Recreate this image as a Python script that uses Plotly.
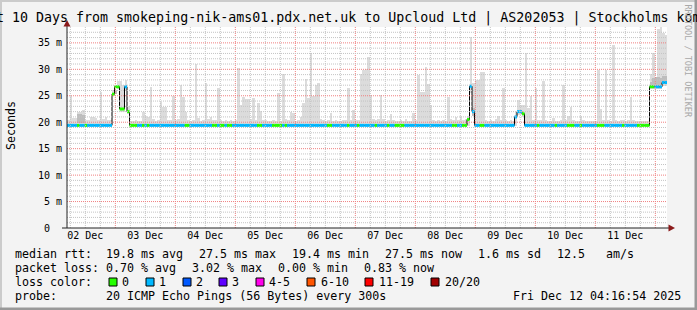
import pandas as pd
import plotly.graph_objects as go

MONO = "DejaVu Sans Mono"
START = pd.Timestamp("2025-12-02 04:40:00")
END = START + pd.Timedelta(days=10)

# ---- hourly data (240 buckets, 10 days) ----
smoke_top = [
    20.4, 25.0, 20.8, 20.8, 22.0, 22.0, 22.3, 20.5, 20.4, 21.0, 21.0, 20.8,
    20.5, 25.8, 20.6, 21.0, 20.4, 20.4, 26.1, 26.1, 27.8, 27.8, 27.0, 27.9,
    23.0, 20.3, 20.3, 20.4, 20.3, 20.3, 22.0, 21.2, 21.0, 26.7, 20.7, 20.3,
    20.4, 23.8, 22.9, 22.8, 20.4, 20.5, 25.0, 20.4, 20.6, 27.0, 24.8, 21.9,
    20.4, 20.3, 20.5, 31.0, 20.8, 20.3, 20.4, 27.5, 20.6, 21.0, 20.4, 20.5,
    26.5, 20.4, 20.3, 20.5, 20.3, 20.4, 20.3, 20.5, 30.2, 23.3, 24.7, 24.3,
    24.3, 20.6, 24.5, 20.5, 23.7, 22.1, 20.5, 20.5, 20.3, 20.3, 20.4, 20.3,
    25.6, 20.3, 29.1, 20.6, 20.4, 22.0, 21.7, 20.3, 20.4, 21.0, 23.6, 28.1,
    24.5, 33.0, 25.0, 27.0, 27.4, 20.7, 20.4, 20.3, 20.4, 21.8, 20.3, 20.4,
    20.3, 20.3, 20.5, 20.4, 26.4, 20.5, 22.3, 20.4, 20.5, 29.2, 29.9, 30.0,
    32.4, 25.1, 20.6, 20.4, 20.6, 25.1, 20.7, 20.3, 20.4, 21.6, 20.4, 20.3,
    20.3, 20.4, 20.3, 20.6, 20.3, 20.3, 21.8, 20.4, 28.9, 25.8, 25.8, 30.5,
    27.3, 23.3, 20.5, 20.3, 20.4, 20.3, 20.4, 20.3, 24.7, 20.6, 20.4, 21.0,
    20.4, 21.1, 20.5, 20.6, 21.2, 36.2, 27.5, 28.0, 28.0, 29.5, 29.5, 20.5,
    20.3, 20.4, 20.3, 20.7, 21.2, 20.4, 26.4, 20.5, 20.3, 20.4, 20.3, 21.9,
    24.2, 23.3, 23.3, 33.0, 22.6, 25.0, 20.5, 26.4, 20.4, 20.5, 27.8, 20.4,
    20.3, 20.3, 20.8, 20.3, 20.3, 20.4, 27.0, 20.4, 21.2, 22.9, 20.4, 20.3,
    20.3, 21.2, 20.4, 20.3, 20.3, 20.3, 20.3, 20.3, 29.9, 22.5, 20.4, 29.9,
    20.4, 20.3, 34.6, 20.4, 20.3, 20.4, 20.5, 20.3, 20.4, 24.8, 20.4, 20.3,
    20.3, 20.3, 20.3, 20.3, 20.3, 29.2, 33.0, 28.0, 37.7, 38.0, 36.8, 36.5,
]

smoke_bottom = [
    19.2, 19.2, 19.2, 19.2, 19.2, 19.2, 19.2, 19.2, 19.2, 19.2, 19.2, 19.2,
    19.2, 19.2, 19.2, 19.2, 19.2, 19.2, 25.0, 25.3, 26.2, 22.0, 22.0, 26.0,
    21.6, 19.2, 19.2, 19.2, 19.2, 19.2, 19.2, 19.2, 19.2, 19.2, 19.2, 19.2,
    19.2, 19.2, 19.2, 19.2, 19.2, 19.2, 19.2, 19.2, 19.2, 19.2, 19.2, 19.2,
    19.2, 19.2, 19.2, 19.2, 19.2, 19.2, 19.2, 19.2, 19.2, 19.2, 19.2, 19.2,
    19.2, 19.2, 19.2, 19.2, 19.2, 19.2, 19.2, 19.2, 19.2, 19.2, 19.2, 19.2,
    19.2, 19.2, 19.2, 19.2, 19.2, 19.2, 19.2, 19.2, 19.2, 19.2, 19.2, 19.2,
    19.2, 19.2, 19.2, 19.2, 19.2, 19.2, 19.2, 19.2, 19.2, 19.2, 19.2, 19.2,
    19.2, 19.2, 19.2, 19.2, 19.2, 19.2, 19.2, 19.2, 19.2, 19.2, 19.2, 19.2,
    19.2, 19.2, 19.2, 19.2, 19.2, 19.2, 19.2, 19.2, 19.2, 19.2, 19.2, 19.2,
    19.2, 19.2, 19.2, 19.2, 19.2, 19.2, 19.2, 19.2, 19.2, 19.2, 19.2, 19.2,
    19.2, 19.2, 19.2, 19.2, 19.2, 19.2, 19.2, 19.2, 19.2, 19.2, 19.2, 19.2,
    19.2, 19.2, 19.2, 19.2, 19.2, 19.2, 19.2, 19.2, 19.2, 19.2, 19.2, 19.2,
    19.2, 19.2, 19.2, 19.2, 19.2, 25.5, 21.5, 19.2, 19.2, 19.2, 19.2, 19.2,
    19.2, 19.2, 19.2, 19.2, 19.2, 19.2, 19.2, 19.2, 19.2, 19.2, 19.2, 19.2,
    21.4, 21.4, 21.0, 19.2, 19.2, 19.2, 19.2, 19.2, 19.2, 19.2, 19.2, 19.2,
    19.2, 19.2, 19.2, 19.2, 19.2, 19.2, 19.2, 19.2, 19.2, 19.2, 19.2, 19.2,
    19.2, 19.2, 19.2, 19.2, 19.2, 19.2, 19.2, 19.2, 19.2, 19.2, 19.2, 19.2,
    19.2, 19.2, 19.2, 19.2, 19.2, 19.2, 19.2, 19.2, 19.2, 19.2, 19.2, 19.2,
    19.2, 19.2, 19.2, 19.2, 19.2, 26.3, 26.3, 26.3, 26.3, 26.3, 26.9, 26.9,
]

median_rtt = [
    19.4, 19.4, 19.4, 19.4, 19.4, 19.4, 19.4, 19.4, 19.4, 19.4, 19.4, 19.4,
    19.4, 19.4, 19.4, 19.4, 19.4, 19.4, 25.3, 26.7, 26.7, 22.5, 22.5, 26.7,
    22.0, 19.4, 19.4, 19.4, 19.4, 19.4, 19.4, 19.4, 19.4, 19.4, 19.4, 19.4,
    19.4, 19.4, 19.4, 19.4, 19.4, 19.4, 19.4, 19.4, 19.4, 19.4, 19.4, 19.4,
    19.4, 19.4, 19.4, 19.4, 19.4, 19.4, 19.4, 19.4, 19.4, 19.4, 19.4, 19.4,
    19.4, 19.4, 19.4, 19.4, 19.4, 19.4, 19.4, 19.4, 19.4, 19.4, 19.4, 19.4,
    19.4, 19.4, 19.4, 19.4, 19.4, 19.4, 19.4, 19.4, 19.4, 19.4, 19.4, 19.4,
    19.4, 19.4, 19.4, 19.4, 19.4, 19.4, 19.4, 19.4, 19.4, 19.4, 19.4, 19.4,
    19.4, 19.4, 19.4, 19.4, 19.4, 19.4, 19.4, 19.4, 19.4, 19.4, 19.4, 19.4,
    19.4, 19.4, 19.4, 19.4, 19.4, 19.4, 19.4, 19.4, 19.4, 19.4, 19.4, 19.4,
    19.4, 19.4, 19.4, 19.4, 19.4, 19.4, 19.4, 19.4, 19.4, 19.4, 19.4, 19.4,
    19.4, 19.4, 19.4, 19.4, 19.4, 19.4, 19.4, 19.4, 19.4, 19.4, 19.4, 19.4,
    19.4, 19.4, 19.4, 19.4, 19.4, 19.4, 19.4, 19.4, 19.4, 19.4, 19.4, 19.4,
    19.4, 19.4, 19.4, 19.4, 20.5, 26.8, 22.0, 19.4, 19.4, 19.4, 19.4, 19.4,
    19.4, 19.4, 19.4, 19.4, 19.4, 19.4, 19.4, 19.4, 19.4, 19.4, 19.4, 21.0,
    22.0, 22.0, 21.6, 19.4, 19.4, 19.4, 19.4, 19.4, 19.4, 19.4, 19.4, 19.4,
    19.4, 19.4, 19.4, 19.4, 19.4, 19.4, 19.4, 19.4, 19.4, 19.4, 19.4, 19.4,
    19.4, 19.4, 19.4, 19.4, 19.4, 19.4, 19.4, 19.4, 19.4, 19.4, 19.4, 19.4,
    19.4, 19.4, 19.4, 19.4, 19.4, 19.4, 19.4, 19.4, 19.4, 19.4, 19.4, 19.4,
    19.4, 19.4, 19.4, 19.4, 19.4, 26.7, 26.7, 26.7, 26.7, 26.7, 27.5, 27.5,
]

loss_count = [
    1, 1, 1, 1, 0, 1, 1, 0, 1, 1, 1, 1,
    1, 1, 1, 1, 1, 1, 0, 0, 0, 0, 0, 1,
    0, 0, 0, 0, 1, 1, 0, 1, 0, 1, 1, 1,
    1, 1, 1, 1, 1, 1, 1, 1, 1, 1, 1, 0,
    0, 1, 1, 1, 1, 1, 1, 1, 1, 1, 0, 0,
    1, 0, 0, 1, 0, 0, 1, 1, 1, 1, 1, 1,
    1, 1, 1, 1, 0, 0, 1, 1, 1, 1, 0, 0,
    0, 0, 1, 0, 1, 1, 1, 1, 1, 1, 1, 1,
    1, 1, 1, 1, 1, 1, 1, 1, 0, 0, 1, 1,
    1, 1, 1, 1, 0, 1, 1, 1, 0, 1, 1, 1,
    1, 1, 1, 0, 1, 1, 1, 1, 0, 1, 1, 0,
    0, 0, 0, 1, 1, 1, 1, 1, 1, 1, 1, 1,
    1, 1, 1, 1, 1, 1, 1, 1, 1, 1, 0, 0,
    1, 1, 0, 0, 0, 1, 1, 1, 1, 0, 0, 1,
    1, 1, 1, 1, 1, 1, 1, 1, 1, 1, 1, 1,
    1, 1, 0, 1, 1, 1, 1, 1, 0, 1, 1, 1,
    1, 1, 1, 0, 1, 1, 1, 1, 0, 0, 0, 1,
    1, 0, 1, 1, 1, 1, 1, 1, 0, 0, 0, 1,
    1, 1, 1, 1, 1, 1, 0, 1, 1, 1, 1, 1,
    0, 0, 0, 0, 0, 0, 0, 1, 1, 1, 1, 1,
]

# darker inner smoke (few buckets)
inner_hours = [4, 5, 6, 19, 162, 233, 234, 235, 236, 237, 238, 239]
inner_lo = [19.8, 19.8, 19.8, 25.3, 21.2, 26.5, 26.5, 26.5, 26.5, 26.5, 27.3, 27.3]
inner_hi = [21.5, 21.6, 21.3, 26.1, 22.6, 27.6, 28.3, 28.6, 28.6, 28.3, 28.8, 28.8]

day_labels = ["02 Dec", "03 Dec", "04 Dec", "05 Dec", "06 Dec",
              "07 Dec", "08 Dec", "09 Dec", "10 Dec", "11 Dec"]
ytick_vals = [0, 5, 10, 15, 20, 25, 30, 35]
ytick_text = ["0\u00a0\u00a0", "5 m", "10 m", "15 m", "20 m", "25 m", "30 m", "35 m"]

loss_labels = ["0", "1", "2", "3", "4-5", "6-10", "11-19", "20/20"]
loss_colors = ["#26ff00", "#00b8ff", "#0059ff", "#5e00ff",
               "#ff00ea", "#ff5500", "#ff0000", "#a00000"]

title_text = ("Last 10 Days from smokeping-nik-ams01.pdx.net.uk to Upcloud Ltd"
              " | AS202053 | Stockholms kommun")
rtt_items = ["19.8 ms avg", "27.5 ms max", "19.4 ms min", "27.5 ms now",
             "1.6 ms sd", "12.5", "am/s"]
loss_items = ["0.70 % avg", "3.02 % max", "0.00 % min", "0.83 % now"]
probe_text = "20 ICMP Echo Pings (56 Bytes) every 300s"
date_text = "Fri Dec 12 04:16:54 2025"

# ---- layout geometry (pixels) ----
W, H = 697, 310
PL, PR, PT, PB = 67, 667, 27, 228
YMAX = 38


def fx(x):
    return (x - PL) / (PR - PL)


def fy(y):
    return (PB - y) / (PB - PT)


def loss_class(n):
    if n <= 3:
        return n
    if n <= 5:
        return 4
    if n <= 10:
        return 5
    if n <= 19:
        return 6
    return 7


hours = list(range(len(smoke_top)))
t_edge = [START + pd.Timedelta(hours=h) for h in range(len(hours) + 1)]
t_mid = [START + pd.Timedelta(minutes=60 * h + 30) for h in hours]

fig = go.Figure()

fig.add_trace(go.Bar(
    x=t_mid, y=[t - b for t, b in zip(smoke_top, smoke_bottom)], base=smoke_bottom,
    width=3600 * 1000, marker=dict(color="#dcdcdc", line=dict(width=0)),
    hoverinfo="skip"))
fig.add_trace(go.Bar(
    x=[t_mid[h] for h in inner_hours], y=[hi - lo for hi, lo in zip(inner_hi, inner_lo)],
    base=inner_lo, width=3600 * 1000,
    marker=dict(color="#bdbdbd", line=dict(width=0)), hoverinfo="skip"))

# black step line (vertical transitions)
fig.add_trace(go.Scatter(
    x=t_edge, y=median_rtt + [median_rtt[-1]], mode="lines",
    line=dict(color="#000000", width=1, shape="hv"), hoverinfo="skip"))

# coloured median segments by loss
for ci, col in enumerate(loss_colors):
    xs, ys = [], []
    for h in hours:
        if loss_class(loss_count[h]) == ci:
            xs += [t_edge[h], t_edge[h + 1], None]
            ys += [median_rtt[h], median_rtt[h], None]
    if xs:
        fig.add_trace(go.Scatter(x=xs, y=ys, mode="lines",
                                 line=dict(color=col, width=3), hoverinfo="skip"))

shapes = []
# grid lines
t = START.ceil("6h")
while t < END:
    major = (t.hour == 0)
    shapes.append(dict(type="line", xref="x", yref="paper", x0=t, x1=t, y0=0, y1=1,
                       line=dict(color="#f08080" if major else "#c4c4c4", width=1,
                                 dash="1px,1px"), layer="above"))
    t += pd.Timedelta(hours=6)
for v in range(1, YMAX):
    major = (v % 5 == 0)
    shapes.append(dict(type="line", xref="paper", yref="y", x0=0, x1=1, y0=v, y1=v,
                       line=dict(color="#f08080" if major else "#c4c4c4", width=1,
                                 dash="1px,1px"), layer="above"))

AX = "#222222"
ARROW = "#8b1a1a"
# axes
shapes.append(dict(type="line", xref="paper", yref="paper", x0=fx(67), x1=fx(67),
                   y0=fy(228), y1=fy(24), line=dict(color=AX, width=1), layer="above"))
shapes.append(dict(type="line", xref="paper", yref="paper", x0=fx(62), x1=fx(671),
                   y0=fy(228), y1=fy(228), line=dict(color=AX, width=1), layer="above"))
shapes.append(dict(type="path", xref="paper", yref="paper",
                   path=f"M {fx(63.5)} {fy(26.5)} L {fx(70.5)} {fy(26.5)} L {fx(67)} {fy(20)} Z",
                   fillcolor=ARROW, line=dict(width=0), layer="above"))
shapes.append(dict(type="path", xref="paper", yref="paper",
                   path=f"M {fx(668.5)} {fy(224.5)} L {fx(668.5)} {fy(231.5)} L {fx(675)} {fy(228)} Z",
                   fillcolor=ARROW, line=dict(width=0), layer="above"))


# frame (3d border)
def rect(x0, y0, x1, y1, color, line=None):
    return dict(type="rect", xref="paper", yref="paper", x0=fx(x0), x1=fx(x1),
                y0=fy(y0), y1=fy(y1), fillcolor=color,
                line=dict(width=0) if line is None else line, layer="above")


shapes.append(rect(0, 0, W, 2, "#cbcbcb"))
shapes.append(rect(0, 0, 2, H, "#cbcbcb"))
shapes.append(rect(0, H - 2.5, W, H, "#999999"))
shapes.append(rect(W - 2.5, 0, W, H, "#999999"))

# loss colour legend boxes
box_x = [109, 146, 183, 219, 256, 307, 365, 431]
lab_x = [123, 160, 197, 233, 270, 322, 380, 446]
for bx, col in zip(box_x, loss_colors):
    shapes.append(rect(bx, 278, bx + 8, 286, col, line=dict(color="#000000", width=1)))

annotations = []


def ann(text, x, y, size=11.65, xanchor="left", color="#000000", angle=0):
    annotations.append(dict(
        xref="paper", yref="paper", x=fx(x), y=fy(y), text=text, showarrow=False,
        xanchor=xanchor, yanchor="middle", textangle=angle,
        borderpad=0, borderwidth=0,
        font=dict(family=MONO, size=size, color=color)))


ann(title_text, -28, 18, size=13.3)
ann("Seconds", 11, 126, xanchor="center", angle=-90)
ann("RRDTOOL / TOBI OETIKER", 687.5, 61, size=8.5, xanchor="center", color="#a8a8a8", angle=90)

ann("median rtt:", 15, 254)
for txt, x in zip(rtt_items, [106, 199, 292, 385, 478, 557, 606]):
    ann(txt, x, 254)
ann("packet loss:", 15, 268)
for txt, x in zip(loss_items, [106, 192, 278, 364]):
    ann(txt, x, 268)
ann("loss color:", 15, 282)
for txt, x in zip(loss_labels, lab_x):
    ann(txt, x - 1, 282)
ann("probe:", 15, 296)
ann(probe_text, 106, 296)
ann(date_text, 681, 296, xanchor="right")

noon = [pd.Timestamp("2025-12-02 12:00") + pd.Timedelta(days=d) for d in range(len(day_labels))]

fig.update_layout(
    width=W, height=H,
    margin=dict(l=PL, r=W - PR, t=PT, b=H - PB, pad=0),
    paper_bgcolor="#f3f3f3", plot_bgcolor="#ffffff",
    showlegend=False, barmode="overlay", bargap=0, hovermode=False,
    shapes=shapes, annotations=annotations,
    xaxis=dict(type="date", range=[START, END], showgrid=False, zeroline=False,
               showline=False, tickvals=noon, ticktext=day_labels, ticks="",
               tickfont=dict(family=MONO, size=10, color="#000000")),
    yaxis=dict(range=[0, YMAX], showgrid=False, zeroline=False, showline=False,
               tickvals=ytick_vals, ticktext=ytick_text, ticks="",
               ticklabelstandoff=4,
               tickfont=dict(family=MONO, size=10, color="#000000")),
)

fig.write_html("out.html")
